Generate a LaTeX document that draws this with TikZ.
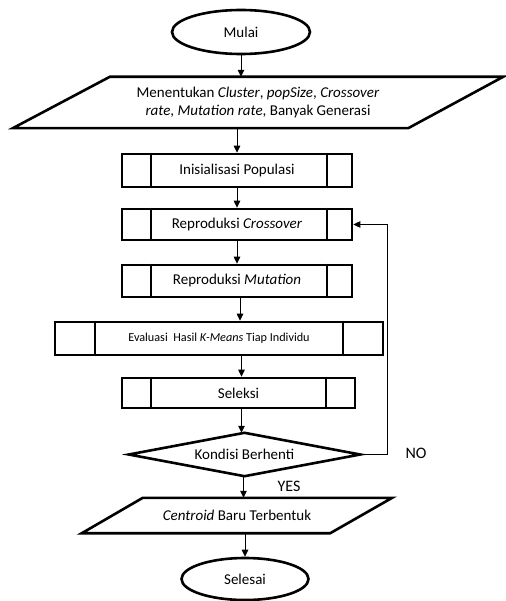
\documentclass[tikz,border=0pt]{standalone}
\usepackage{fontspec}
\setmainfont{Carlito}
\usetikzlibrary{shapes.geometric,arrows.meta,calc}
\begin{document}
\begin{tikzpicture}[x=1pt,y=-1pt,
  font=\fontsize{15}{18}\selectfont,
  bord/.style={line width=2.6pt, line join=miter},
  term/.style={ellipse, draw, bord, inner sep=0pt},
  proc/.style={rectangle, draw, bord, inner sep=0pt},
  plain/.style={rectangle, inner sep=0pt},
  sep/.style={line width=2pt},
  arr/.style={-{Triangle[width=6.5pt,length=7pt]}, line width=1pt},
  lbl/.style={inner sep=0pt, font=\fontsize{16}{18}\selectfont}
]
\useasboundingbox (0,0) rectangle (505,601);

\node[term, minimum width=138pt, minimum height=44pt] (mulai) at (241,32) {Mulai};

\node[plain, minimum width=490pt, minimum height=51pt, align=center] (inp) at (258,102.5)
  {Menentukan \textit{Cluster}, \textit{popSize}, \textit{Crossover}\\\textit{rate}, \textit{Mutation rate}, Banyak Generasi};
\draw[bord] ($(inp.north west)+(97,0)$) -- (inp.north east) -- ($(inp.south east)+(-95,0)$) -- (inp.south west) -- cycle;

\node[proc, minimum width=230pt, minimum height=33pt] (init) at (237,170.5) {Inisialisasi Populasi};
\node[proc, minimum width=230pt, minimum height=31pt] (cross) at (237,224.5) {Reproduksi \textit{Crossover}};
\node[proc, minimum width=230pt, minimum height=32pt] (mut) at (237,281) {Reproduksi \textit{Mutation}};
\node[proc, minimum width=328pt, minimum height=33pt, font=\fontsize{12.2}{15}\selectfont] (eval) at (219,338.5) {Evaluasi\ \ Hasil \textit{K-Means} Tiap Individu};
\node[proc, minimum width=233pt, minimum height=30pt] (sel) at (238.5,393) {Seleksi};

\foreach \n/\l/\r in {init/30/26, cross/30/26, mut/30/26, eval/41/41, sel/30/30}{
  \draw[sep] ([xshift=\l pt]\n.north west) -- ([xshift=\l pt]\n.south west);
  \draw[sep] ([xshift=-\r pt]\n.north east) -- ([xshift=-\r pt]\n.south east);
}

\node[plain, minimum width=231pt, minimum height=43pt] (kon) at (244.5,454.5) {Kondisi Berhenti};
\draw[bord] (kon.west) -- (kon.north) -- (kon.east) -- (kon.south) -- cycle;

\node[plain, minimum width=310pt, minimum height=35pt] (out) at (237,515.5) {\textit{Centroid} Baru Terbentuk};
\draw[bord] ($(out.north west)+(61,0)$) -- (out.north east) -- ($(out.south east)+(-62,0)$) -- (out.south west) -- cycle;

\node[term, minimum width=127pt, minimum height=42pt] (selesai) at (245,579) {Selesai};

\node[lbl] (no) at (416,453) {NO};
\node[lbl] (yes) at (289,486) {YES};

\coordinate (fb) at (387,0);

\draw[arr] (mulai.south) -- (mulai.south |- inp.north);
\draw[arr] (init.north |- inp.south) -- (init.north);
\draw[arr] (init.south) -- (cross.north);
\draw[arr] (cross.south) -- (mut.north);
\draw[arr] ([xshift=3pt]mut.south) -- ([xshift=3pt]mut.south |- eval.north);
\draw[arr] ([xshift=3pt]sel.north |- eval.south) -- ([xshift=3pt]sel.north);
\draw[arr] ([xshift=3pt]sel.south) -- ([xshift=3pt]sel.south |- kon.north);
\draw[arr] ([xshift=-1pt]kon.south) -- ([xshift=-1pt]kon.south |- out.north);
\draw[arr] (selesai.north |- out.south) -- (selesai.north);
\draw[arr, line width=0.9pt] (kon.east) -- (kon.east -| fb) |- (cross.east);
\end{tikzpicture}
\end{document}
